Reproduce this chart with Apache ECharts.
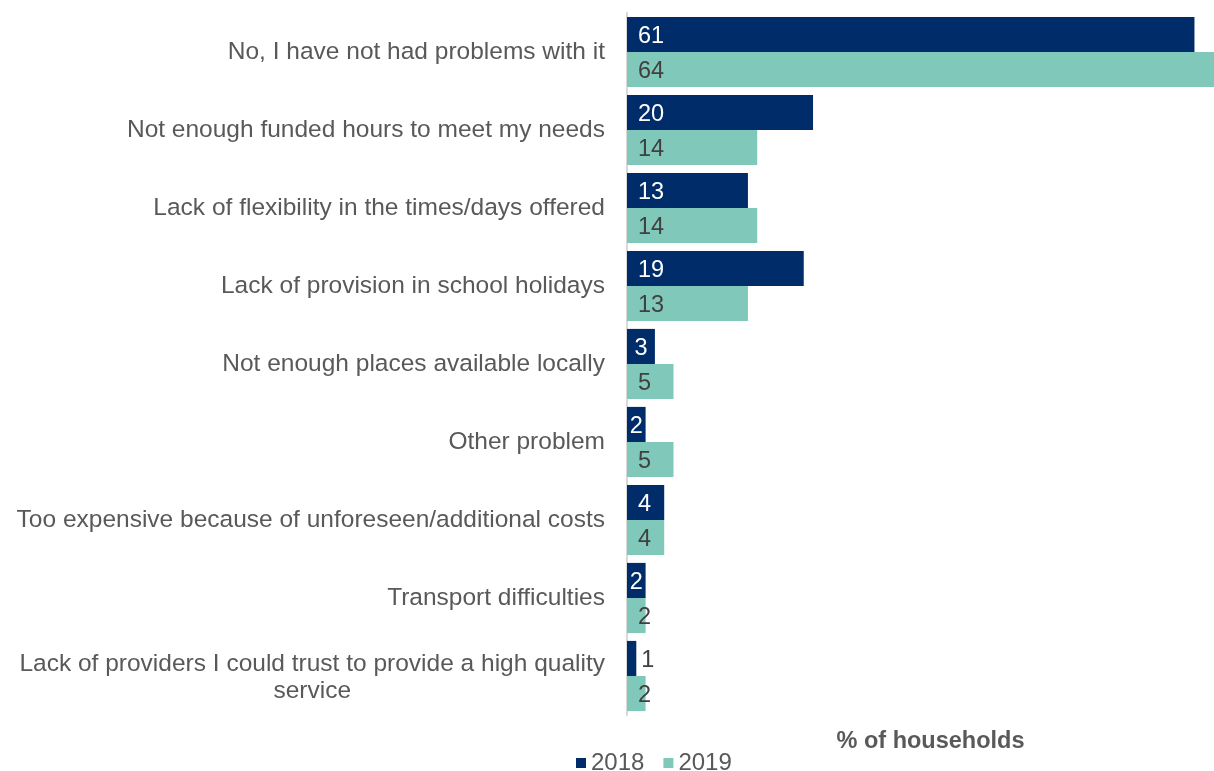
<!DOCTYPE html>
<html>
<head>
<meta charset="utf-8">
<script src="https://cdn.jsdelivr.net/npm/echarts@6/dist/echarts.min.js"></script>
<style>html,body{margin:0;padding:0;background:#fff;}#c{width:1214px;height:771px;}</style>
</head>
<body>
<div id="c"></div>
<script>
const categories = [
  "No, I have not had problems with it",
  "Not enough funded hours to meet my needs",
  "Lack of flexibility in the times/days offered",
  "Lack of provision in school holidays",
  "Not enough places available locally",
  "Other problem",
  "Too expensive because of unforeseen/additional costs",
  "Transport difficulties",
  "Lack of providers I could trust to provide a high quality\nservice"
];
const values2018 = [61, 20, 13, 19, 3, 2, 4, 2, 1];
const values2019 = [64, 14, 14, 13, 5, 5, 4, 2, 2];
const seriesNames = ["2018", "2019"];
const axisTitle = "% of households";

const chart = echarts.init(document.getElementById('c'));
const font = "Liberation Sans, Arial, sans-serif";
function mk(vals, dark) {
  return vals.map(v => {
    const item = { value: v };
    if (dark && v < 2) item.label = { position: 'right', distance: 5, color: '#404040' };
    else if (dark && v <= 3) item.label = { position: 'inside' };
    return item;
  });
}
chart.setOption({
  animation: false,
  grid: { left: 627, right: 0, top: 13, bottom: 56, containLabel: false },
  xAxis: {
    type: 'value', min: 0, max: 63.1,
    axisLine: { show: false }, axisTick: { show: false },
    axisLabel: { show: false }, splitLine: { show: false },
    name: axisTitle, nameLocation: 'middle', nameGap: 15,
    nameTextStyle: { fontFamily: font, fontSize: 23.5, fontWeight: 'bold', color: '#595959', padding: [0, 0, 0, 20] }
  },
  yAxis: {
    type: 'category', data: categories, inverse: true,
    axisLine: { show: true, lineStyle: { color: '#d9d9d9', width: 2 } },
    axisTick: { show: false },
    axisLabel: {
      fontFamily: font, fontSize: 24.5, color: '#595959', margin: 22, lineHeight: 27,
      formatter: function (v) { return v.indexOf('\n') >= 0 ? '{c|' + v + '}' : v; },
      rich: { c: { align: 'center', fontFamily: font, fontSize: 24.5, color: '#595959', lineHeight: 27, padding: [3, 0, 0, 0] } }
    }
  },
  legend: {
    data: seriesNames, left: 571, bottom: -9, icon: 'rect', itemWidth: 10, itemHeight: 10, itemGap: 19,
    textStyle: { fontFamily: font, fontSize: 24, color: '#595959' }
  },
  series: [
    {
      name: seriesNames[0], type: 'bar', data: mk(values2018, true), barGap: '0%', barCategoryGap: '10%',
      itemStyle: { color: '#002D6A' },
      label: { show: true, position: 'insideLeft', distance: 11, offset: [0, 2], fontFamily: font, fontSize: 23.5, color: '#ffffff' }
    },
    {
      name: seriesNames[1], type: 'bar', data: mk(values2019, false), barGap: '0%', barCategoryGap: '10%',
      itemStyle: { color: '#80C9BA' },
      label: { show: true, position: 'insideLeft', distance: 11, offset: [0, 2], fontFamily: font, fontSize: 23.5, color: '#404040' }
    }
  ]
});
</script>
</body>
</html>
